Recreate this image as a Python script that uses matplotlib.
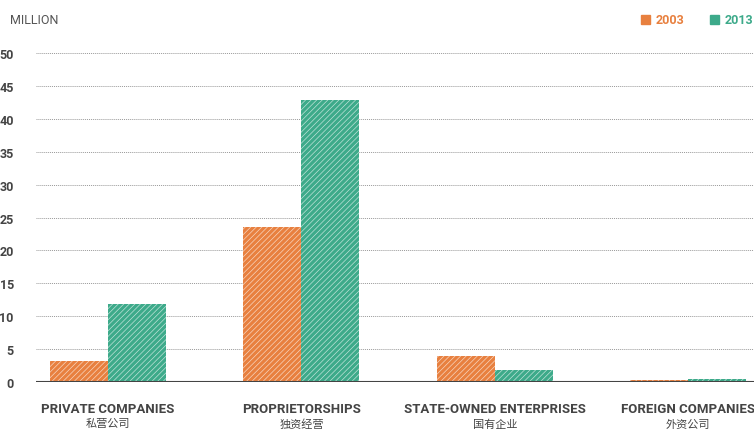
import matplotlib.pyplot as plt
import numpy as np

categories = ['PRIVATE COMPANIES', 'PROPRIETORSHIPS', 'STATE-OWNED ENTERPRISES', 'FOREIGN COMPANIES']
categories_cn = ['私营公司', '独资经营', '国有企业', '外资公司']
y2003 = [3.2, 23.6, 4.0, 0.25]
y2013 = [11.9, 42.9, 1.8, 0.4]
yticks = [0, 5, 10, 15, 20, 25, 30, 35, 40, 45, 50]

orange = '#E8803F'
teal = '#3DAA8A'
grey = '#444444'
cond = ['Roboto', 'DejaVu Sans']

plt.rcParams['hatch.color'] = '#ffffffaa'
plt.rcParams['hatch.linewidth'] = 0.5

fig = plt.figure(figsize=(7.54, 4.31), dpi=100)
ax = fig.add_axes([36 / 754, 48 / 431, 718 / 754, 342 / 431])

x = np.arange(len(categories))
w = 0.30
ax.bar(x - w / 2, y2003, w, color=orange, hatch='//////', linewidth=0)
ax.bar(x + w / 2, y2013, w, color=teal, hatch='//////', linewidth=0)

ax.set_xlim(-0.372, 3.34)
ax.set_ylim(0, 52)
for t in yticks[1:]:
    ax.axhline(t, color='#999999', linestyle=(0, (1, 1)), linewidth=0.7, zorder=0)
ax.axhline(0, color=grey, linewidth=1.5, zorder=3)

for s in ax.spines.values():
    s.set_visible(False)
ax.set_xticks([])
ax.set_yticks(yticks)
ax.set_yticklabels([str(t) for t in yticks], family=cond, fontweight='bold',
                   fontsize=9, color=grey)
ax.tick_params(axis='y', length=0, pad=16)

for i in range(len(categories)):
    ax.text(x[i], -4.0, categories[i], ha='center', va='center', family=cond,
            fontweight='bold', fontsize=9.5, color=grey)
    ax.text(x[i], -6.3, categories_cn[i], ha='center', va='center',
            family=['Noto Sans CJK SC', 'DejaVu Sans'], fontsize=8, color=grey)

fig.text(10 / 754, 1 - 20 / 431, 'MILLION', family=cond, fontsize=9,
         color='#555555', va='center', ha='left')

fig.patches.append(plt.Rectangle((641 / 754, 1 - 25 / 431), 9 / 754, 9 / 431,
                                 transform=fig.transFigure, color=orange))
fig.text(656 / 754, 1 - 21 / 431, '2003', family=cond, fontweight='bold',
         fontsize=9, color=orange, va='center', ha='left')
fig.patches.append(plt.Rectangle((710 / 754, 1 - 25 / 431), 9 / 754, 9 / 431,
                                 transform=fig.transFigure, color=teal))
fig.text(725 / 754, 1 - 21 / 431, '2013', family=cond, fontweight='bold',
         fontsize=9, color=teal, va='center', ha='left')

fig.savefig('out.png', dpi=100)
